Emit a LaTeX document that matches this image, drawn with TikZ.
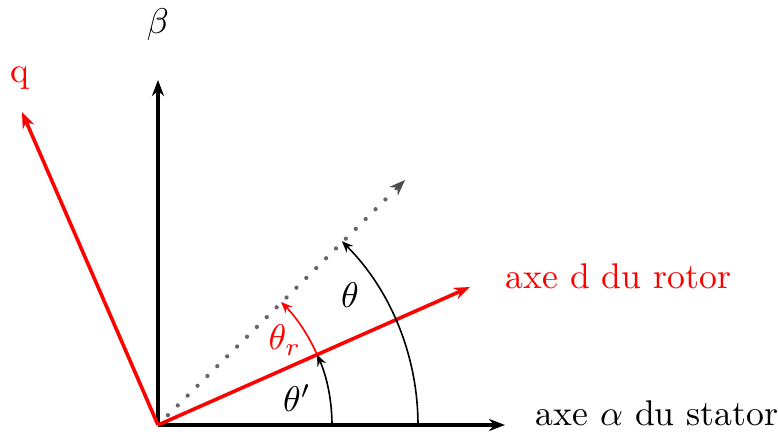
\documentclass[tikz,border=0pt]{standalone}
\usetikzlibrary{arrows.meta,calc}
\begin{document}
\begin{tikzpicture}[x=0.28pt,y=0.28pt,
  axis/.style={line width=1.35pt,-{Stealth[length=4.5pt,width=3.4pt]}},
  raxis/.style={red,line width=1pt,-{Stealth[length=4.5pt,width=3.4pt]}},
  angarc/.style={line width=0.45pt,-{Stealth[length=3.2pt,width=2.6pt]}},
  lbl/.style={inner sep=0pt}]
\useasboundingbox (0,0) rectangle (778,434);
\coordinate (O) at (158,9);
\coordinate (A) at (505,9);
\coordinate (B) at (158,354);
\coordinate (Q) at (22,322);
\coordinate (D) at (470,147);
\coordinate (T) at (405,254);
\draw[axis] (O) -- (A);
\draw[axis] (O) -- (B);
\draw[raxis] (O) -- (Q);
\draw[raxis] (O) -- (D);
\draw[black!60,line width=1.2pt,dash pattern=on 0pt off 3.9pt,line cap=round] ($(O)!0.04!(T)$) -- ($(O)!0.93!(T)$);
\draw[black!70,line width=0.6pt,-{Stealth[length=4.5pt,width=3.4pt]}] ($(O)!0.96!(T)$) -- (T);
\draw[angarc] ($(O)+(260,0)$) arc[start angle=0,end angle=45,radius=260];
\draw[angarc] ($(O)+(174,0)$) arc[start angle=0,end angle=23.9,radius=174];
\draw[angarc,red] ($(O)+(23.9:174)$) arc[start angle=23.9,end angle=45,radius=174];
\node[lbl] (lb) at (158,409) {$\beta$};
\node[lbl,red] (lq) at (20,356) {q};
\node[lbl] (lt) at (350,139) {$\theta$};
\node[lbl,red] (ltr) at (285,94) {$\theta_r$};
\node[lbl] (ltp) at (297,36) {$\theta'$};
\node[lbl,red,anchor=west] (ld) at (505,158) {axe d du rotor};
\node[lbl,anchor=west] (la) at (535,21) {axe $\alpha$ du stator};
\end{tikzpicture}
\end{document}
